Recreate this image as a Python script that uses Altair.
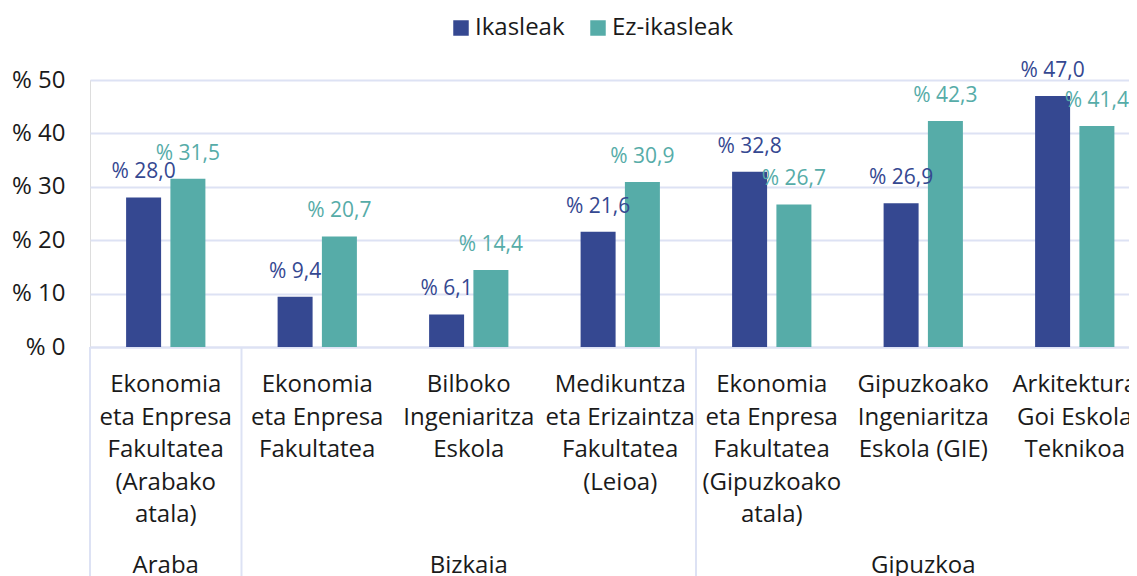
import altair as alt
import pandas as pd

categories = [
    "Ekonomia\neta Enpresa\nFakultatea\n(Arabako\natala)",
    "Ekonomia\neta Enpresa\nFakultatea",
    "Bilboko\nIngeniaritza\nEskola",
    "Medikuntza\neta Erizaintza\nFakultatea\n(Leioa)",
    "Ekonomia\neta Enpresa\nFakultatea\n(Gipuzkoako\natala)",
    "Gipuzkoako\nIngeniaritza\nEskola (GIE)",
    "Arkitektura\nGoi Eskola\nTeknikoa",
]
regions = ["Araba", "Bizkaia", "Bizkaia", "Bizkaia", "Gipuzkoa", "Gipuzkoa", "Gipuzkoa"]
series = ["Ikasleak", "Ez-ikasleak"]
ikasleak = [28.0, 9.4, 6.1, 21.6, 32.8, 26.9, 47.0]
ez_ikasleak = [31.5, 20.7, 14.4, 30.9, 26.7, 42.3, 41.4]
y_ticks = [0, 10, 20, 30, 40, 50]

colors = ["#354891", "#56aca8"]
grid_col = "#dde2f4"
text_col = "#1a1a1a"
FONT = "Open Sans"

rows = []
for c, a, b in zip(categories, ikasleak, ez_ikasleak):
    rows.append({"cat": c, "series": series[0], "value": a})
    rows.append({"cat": c, "series": series[1], "value": b})
df = pd.DataFrame(rows)

cat_df = pd.DataFrame({"cat": categories})

# region label sits at the middle category of each region; separators at region starts
reg_rows = []
sep_rows = []
for r in dict.fromkeys(regions):
    idx = [i for i, x in enumerate(regions) if x == r]
    reg_rows.append({"cat": categories[idx[len(idx) // 2]], "region": r})
    sep_rows.append({"cat": categories[idx[0]]})
reg_df = pd.DataFrame(reg_rows)
sep_df = pd.DataFrame(sep_rows)

H = 267
W = 1039  # visible part of plot; category scale continues past the window edge
xscale = alt.Scale(domain=categories, range=[0, 1060.5], paddingInner=0, paddingOuter=0)
offscale = alt.Scale(domain=series, paddingInner=0.21, paddingOuter=0.815)
yscale = alt.Scale(domain=[0, 50])
cscale = alt.Scale(domain=series, range=colors)

x_enc = alt.X("cat:N", scale=xscale, sort=categories,
              axis=alt.Axis(labels=False, ticks=False, title=None,
                            domainColor=grid_col, domainWidth=2))

bars = alt.Chart(df).mark_bar().encode(
    x=x_enc,
    xOffset=alt.XOffset("series:N", scale=offscale, sort=series),
    y=alt.Y("value:Q", scale=yscale, title=None,
            axis=alt.Axis(values=y_ticks, labelExpr="'% ' + datum.value",
                          domain=False, ticks=False, labelPadding=25,
                          labelFontSize=24, labelColor=text_col, labelFont=FONT,
                          gridColor=grid_col, gridWidth=2)),
    color=alt.Color("series:N", scale=cscale, sort=series,
                    legend=alt.Legend(orient="none", legendX=359, legendY=-64,
                                      direction="horizontal", title=None,
                                      symbolType="square", symbolSize=240,
                                      symbolStrokeWidth=0,
                                      labelFontSize=24, labelFont=FONT,
                                      labelColor=text_col, columnPadding=21,
                                      labelOffset=2)),
)

labels = alt.Chart(df).transform_calculate(
    lbl="'% ' + replace(format(datum.value, '.1f'), '.', ',')"
).mark_text(baseline="alphabetic", dy=-19, fontSize=21, font=FONT).encode(
    x=alt.X("cat:N", scale=xscale, sort=categories),
    xOffset=alt.XOffset("series:N", scale=offscale, sort=series),
    y=alt.Y("value:Q", scale=yscale),
    text="lbl:N",
    color=alt.Color("series:N", scale=cscale, sort=series, legend=None),
)

cat_labels = alt.Chart(cat_df).mark_text(
    baseline="alphabetic", fontSize=24, font=FONT, color=text_col,
    lineBreak="\n", lineHeight=32.5, align="center"
).encode(
    x=alt.X("cat:N", scale=xscale, sort=categories, bandPosition=0.5),
    y=alt.value(H + 45),
    text="cat:N",
)

reg_labels = alt.Chart(reg_df).mark_text(
    baseline="alphabetic", fontSize=24, font=FONT, color=text_col, align="center"
).encode(
    x=alt.X("cat:N", scale=xscale, sort=categories, bandPosition=0.5),
    y=alt.value(H + 226),
    text="region:N",
)

seps = alt.Chart(sep_df).mark_rule(color=grid_col, strokeWidth=2).encode(
    x=alt.X("cat:N", scale=xscale, sort=categories, bandPosition=0),
    y=alt.value(H),
    y2=alt.value(H + 240),
)

chart = alt.layer(seps, bars, labels, cat_labels, reg_labels).properties(
    width=W, height=H, autosize="none",
    padding={"left": 82, "top": 72, "right": 0, "bottom": 229},
).configure_view(stroke=None).configure(font=FONT)

chart.save("out.html", embed_options={"renderer": "svg", "actions": False})
